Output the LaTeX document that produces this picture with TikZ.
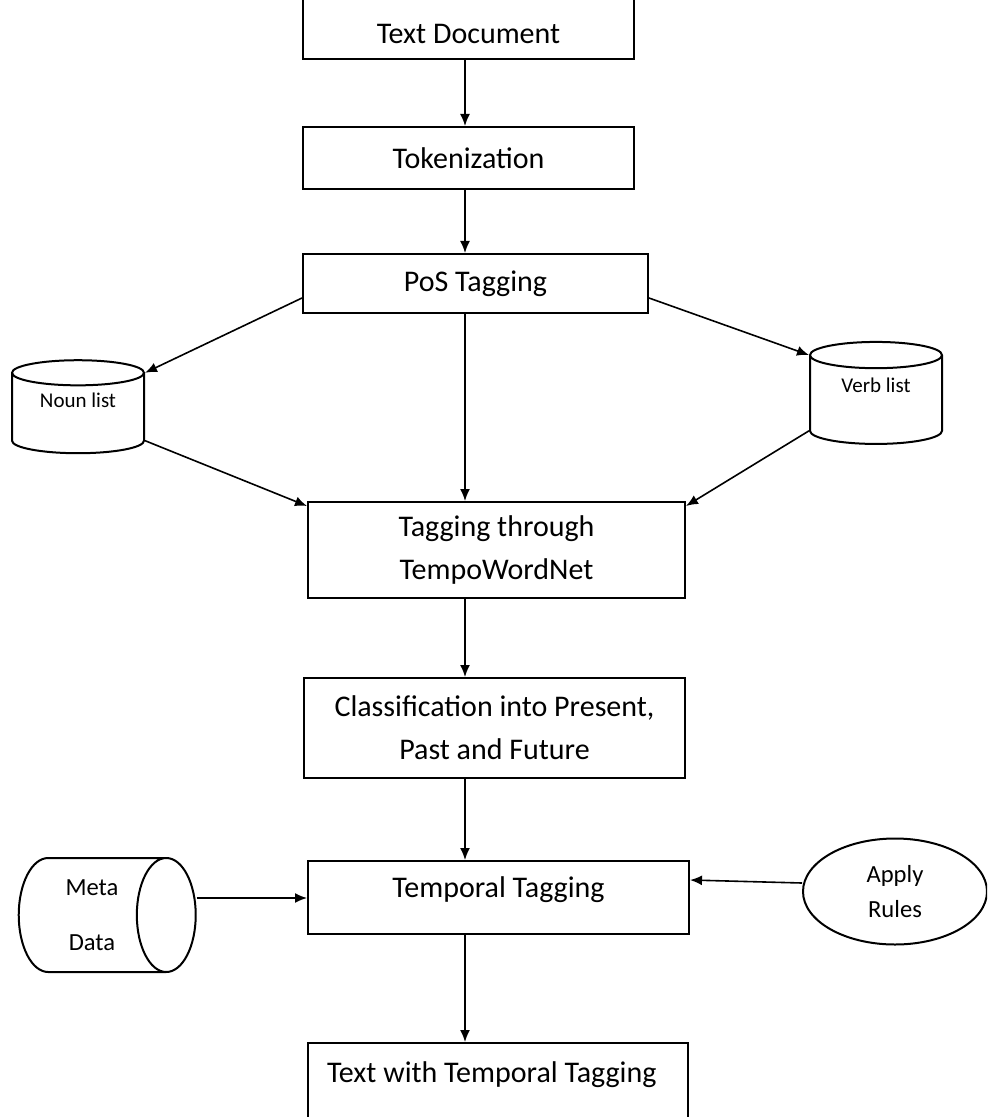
\documentclass[tikz,border=0pt]{standalone}
\usepackage{fontspec}
\setmainfont{Carlito}
\usetikzlibrary{shapes.geometric,arrows.meta}

\begin{document}
\begin{tikzpicture}[
      x=0.5pt,
      y=-0.5pt,
      box/.style={draw, rectangle, line width=1pt, align=center, inner sep=0pt,
        font=\fontsize{15}{21.5}\selectfont},
      db/.style={draw, cylinder, line width=1pt, shape border rotate=90, inner sep=0pt,
        font=\fontsize{10.5}{12}\selectfont},
      arr/.style={-{Latex[length=6pt,width=5pt]}, line width=0.8pt}]
    \path[use as bounding box, clip] (0,0) rectangle (987,1117);
    \coordinate (spine) at (465,0);

    \node[box, anchor=south, minimum width=165.5pt, text height=40pt, text depth=7.75pt] (doc) at (468.5,60) {Text Document};
    \node[box, minimum width=165.5pt, minimum height=31pt] (tok) at (468.5,158) {Tokenization};
    \node[box, minimum width=172.5pt, minimum height=29.5pt] (pos) at (475.5,283.5) {PoS Tagging};
    \node[box, minimum width=188.5pt, minimum height=48pt] (twn) at (496.5,550) {Tagging through\\TempoWordNet};
    \node[box, minimum width=190.5pt, minimum height=50pt] (cls) at (494.5,728) {Classification into Present,\\Past and Future};
    \node[box, minimum width=190.5pt, text height=18.25pt, text depth=18.25pt] (tmp) at (498.5,897.5) {Temporal Tagging};
    \node[box, anchor=north, text width=171pt, align=flush left, inner xsep=9.5pt, text height=19.75pt, text depth=40pt] (out) at (498,1042) {Text with Temporal Tagging};

    \node[db, minimum width=66pt, minimum height=46.5pt, aspect=0.33, text depth=13pt] (noun) at (78,413.5) {Noun list};
    \node[db, minimum width=66pt, minimum height=51pt, aspect=0.38, text depth=15pt] (verb) at (876,400) {Verb list};
    \node[db, shape border rotate=0, align=center, minimum width=57pt, minimum height=88.5pt, aspect=0.83,
      font=\fontsize{12.3}{27.5}\selectfont] (meta) at (92,915) {Meta\\Data};
    \node[draw, ellipse, line width=1pt, minimum width=92pt, minimum height=53pt, inner sep=0pt, align=center,
      font=\fontsize{12.3}{17.5}\selectfont] (rules) at (895,891.5) {Apply\\Rules};

    \draw[arr] (doc.south -| spine) -- (tok.north -| spine);
    \draw[arr] (tok.south -| spine) -- (pos.north -| spine);
    \draw[arr] ([yshift=-7.25pt]pos.west) -- (noun.after top);
    \draw[arr] ([yshift=-7.25pt]pos.east) -- (verb.before top);
    \draw[arr] (pos.south -| spine) -- (twn.north -| spine);
    \draw[arr] (noun.before bottom) -- ([yshift=-2.5pt]twn.north west);
    \draw[arr] (verb.after bottom) -- ([yshift=-2.5pt]twn.north east);
    \draw[arr] (twn.south -| spine) -- (cls.north -| spine);
    \draw[arr] (cls.south -| spine) -- (tmp.north -| spine);
    \draw[arr] ([yshift=8.5pt]meta.top) -- ([yshift=8.5pt]meta.top -| tmp.west);
    \draw[arr] ([yshift=4.25pt]rules.west) -- ([yshift=8.75pt]tmp.east);
    \draw[arr] (tmp.south -| spine) -- (out.north -| spine);

  \end{tikzpicture}
\end{document}
